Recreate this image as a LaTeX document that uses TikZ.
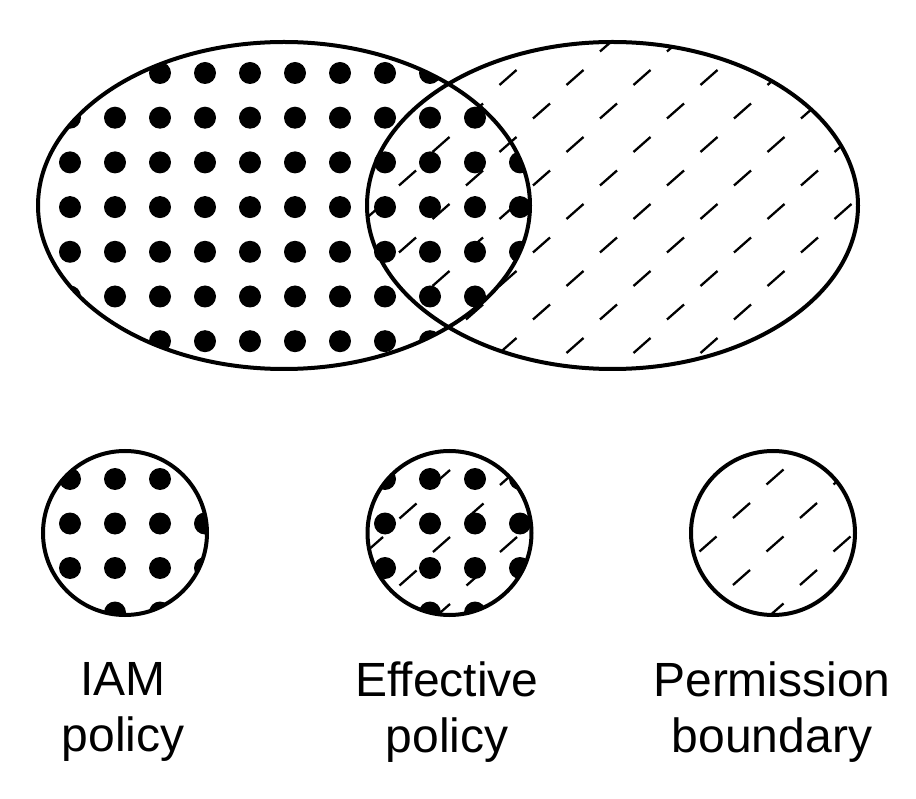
\documentclass[tikz,border=0pt]{standalone}
\usepackage{fontspec}
\setmainfont{Liberation Sans}
\usepackage{tikz}
\usetikzlibrary{calc}

\tikzset{
  outline/.style={line width=4pt},
  hatch/.style={line width=2.3pt},
  spot/.style={fill=black},
  caption/.style={anchor=north,inner sep=0pt,align=center,
    font=\fontsize{48}{56}\selectfont}
}

\begin{document}
\begin{tikzpicture}[x=1pt,y=-1pt]
 \fill[white] (0,0) rectangle (916,799);
 % hatching of the permission boundary
 \begin{scope}
  \clip (612.5,205.5) ellipse (245.5 and 163.5);
  \foreach \j in {0,...,10} {
   \pgfmathsetmacro\xo{340.5+33.5*mod(\j,2)}
   \foreach \i in {0,...,8}
    \draw[hatch] (\xo+67*\i,44+33.5*\j) ++(-8.5,7.5) -- ++(17,-15);
  }
 \end{scope}
 % dots of the IAM policy
 \begin{scope}
  \clip (284,205.5) ellipse (246 and 163.5);
  \foreach \i in {0,...,10}
   \foreach \j in {0,...,6}
    \fill[spot] (70+45*\i,73+44.7*\j) circle (11);
 \end{scope}
 \draw[outline] (284,205.5) ellipse (246 and 163.5);
 \draw[outline] (612.5,205.5) ellipse (245.5 and 163.5);

 % legend: IAM policy
 \begin{scope}
  \clip (125,533) circle (82);
  \foreach \i in {0,...,3}
   \foreach \j in {0,...,3}
    \fill[spot] (70+45*\i,479+44.5*\j) circle (11);
 \end{scope}
 \draw[outline] (125,533) circle (82);

 % legend: effective policy
 \begin{scope}
  \clip (449.5,533) circle (82);
  \foreach \j in {0,...,5} {
   \pgfmathsetmacro\xo{341+33.5*mod(\j,2)}
   \foreach \i in {0,...,3}
    \draw[hatch] (\xo+67*\i,444+33.5*\j) ++(-8.5,7.5) -- ++(17,-15);
  }
  \foreach \i in {0,...,3}
   \foreach \j in {0,...,3}
    \fill[spot] (385+45*\i,479+44.5*\j) circle (11);
 \end{scope}
 \draw[outline] (449.5,533) circle (82);

 % legend: permission boundary
 \begin{scope}
  \clip (773,533) circle (82);
  \foreach \j in {0,...,5} {
   \pgfmathsetmacro\xo{674.5+33.5*mod(\j,2)}
   \foreach \i in {0,...,3}
    \draw[hatch] (\xo+67*\i,443.5+33.5*\j) ++(-8.5,7.5) -- ++(17,-15);
  }
 \end{scope}
 \draw[outline] (773,533) circle (82);

 \node[caption] (iam) at (123,662) {IAM\\policy};
 \node[caption] (eff) at (447,662) {Effective\\policy};
 \node[caption] (perm) at (772,662) {Permission\\boundary};
\end{tikzpicture}
\end{document}
